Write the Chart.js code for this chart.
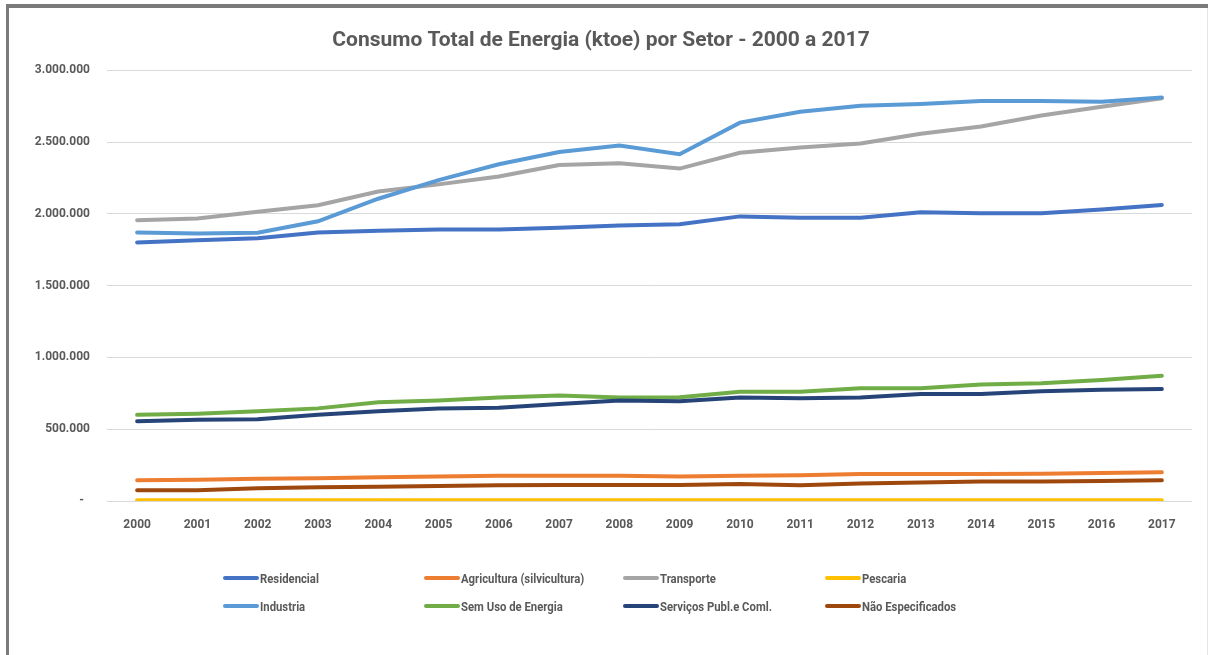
<!DOCTYPE html>
<html>
<head>
<meta charset="utf-8">
<script src="https://cdn.jsdelivr.net/npm/chart.js@4"></script>
<style>
  html, body { margin: 0; padding: 0; background: #fff; }
  #wrap { position: relative; width: 1211px; height: 655px; overflow: hidden; font-family: Roboto, "Liberation Sans", sans-serif; }
  #frameTop { position: absolute; left: 6px; top: 4px; width: 1202px; height: 4px; background: #7b7b7b; }
  #frameLeft { position: absolute; left: 6px; top: 4px; width: 3px; height: 651px; background: #7b7b7b; }
  #frameRight { position: absolute; left: 1207px; top: 8px; width: 1px; height: 647px; background: #e4e4e4; }
  #legend { position: absolute; left: 0; top: 0; width: 1211px; height: 655px; pointer-events: none; }
  .item { position: absolute; display: flex; align-items: center; font-size: 13px; font-weight: bold; color: #595959; white-space: nowrap; }
  .item span.ln { display: inline-block; width: 36px; height: 4px; border-radius: 2px; margin-right: 1px; }
  .item span.tx { display: inline-block; transform: scaleX(0.87); transform-origin: left center; }
</style>
</head>
<body>
<div id="wrap">
  <canvas id="chartEnergia" width="1211" height="655"></canvas>
  <div id="frameTop"></div>
  <div id="frameLeft"></div>
  <div id="frameRight"></div>
  <div id="legend"></div>
</div>
<script>
// anos
const anos = ['2000','2001','2002','2003','2004','2005','2006','2007','2008','2009','2010','2011','2012','2013','2014','2015','2016','2017'];

// consumo por setor (ktoe)
const residencial  = [1800000,1815000,1830000,1870000,1882000,1890000,1890000,1902000,1918000,1928000,1982000,1972000,1972000,2010000,2003000,2003000,2030000,2062000];
const agricultura  = [145000,148000,155000,158000,165000,170000,175000,175000,175000,170000,175000,180000,188000,188000,188000,190000,195000,200000];
const transporte   = [1955000,1968000,2015000,2060000,2155000,2205000,2260000,2340000,2352000,2315000,2425000,2462000,2490000,2558000,2608000,2685000,2745000,2805000];
const pescaria     = [5000,5000,5000,5000,5000,5000,5000,5000,5000,5000,5000,5000,5000,5000,5000,5000,5000,5000];
const industria    = [1870000,1862000,1868000,1948000,2105000,2235000,2345000,2430000,2475000,2415000,2635000,2710000,2752000,2765000,2785000,2785000,2780000,2810000];
const semUso       = [600000,608000,625000,645000,688000,700000,720000,735000,720000,722000,760000,760000,785000,785000,812000,820000,842000,872000];
const servicos     = [555000,565000,570000,600000,625000,645000,650000,675000,700000,695000,720000,715000,720000,745000,745000,765000,775000,780000];
const naoEspecif   = [75000,75000,88000,95000,100000,105000,110000,112000,112000,112000,118000,110000,122000,128000,135000,135000,140000,145000];

const setores = ['Residencial','Agricultura (silvicultura)','Transporte','Pescaria','Industria','Sem Uso de Energia','Serviços Publ.e Coml.','Não Especificados'];
const cores   = ['#4472C4','#ED7D31','#A5A5A5','#FFC000','#5B9BD5','#70AD47','#264478','#9E480E'];
const series  = [residencial, agricultura, transporte, pescaria, industria, semUso, servicos, naoEspecif];

const fonte = 'Roboto, "Liberation Sans", sans-serif';

function formata(v) {
  if (v === 0) return '-  ';
  return String(v).replace(/\B(?=(\d{3})+(?!\d))/g, '.');
}

document.addEventListener('DOMContentLoaded', function () {
  var ctx = document.getElementById('chartEnergia').getContext('2d');

  var data = {
    labels: anos,
    datasets: setores.map(function (nome, i) {
      return {
        label: nome,
        data: series[i],
        borderColor: cores[i],
        backgroundColor: cores[i],
        borderWidth: 4,
        pointRadius: 0,
        tension: 0,
        borderCapStyle: 'round',
        order: 8 - i
      };
    })
  };

  var options = {
    responsive: false,
    animation: false,
    layout: { padding: { left: 10, right: 19, top: 0, bottom: 0 } },
    plugins: {
      legend: { display: false },
      tooltip: { enabled: false },
      title: {
        display: true,
        text: 'Consumo Total de Energia (ktoe) por Setor - 2000 a 2017',
        color: '#595959',
        font: { family: fonte, size: 21, weight: 'bold' },
        padding: { top: 28, bottom: 17 }
      }
    },
    scales: {
      x: {
        offset: true,
        grid: { display: false, drawTicks: false },
        border: { display: false },
        ticks: { color: '#595959', font: { family: fonte, size: 12, weight: 'bold' }, padding: 17, maxRotation: 0 },
        afterFit: function (s) { s.height = 154; }
      },
      y: {
        min: 0,
        max: 3000000,
        grid: { color: '#d9d9d9', lineWidth: 1, drawTicks: false },
        border: { display: false },
        ticks: {
          stepSize: 500000,
          color: '#595959',
          font: { family: fonte, size: 12, weight: 'bold' },
          padding: 17,
          callback: function (v) { return formata(v); }
        },
        afterFit: function (s) { s.width = 97; }
      }
    }
  };

  var grafico = new Chart(ctx, { type: 'line', data: data, options: options });

  // legenda no estilo do Excel: 4 colunas, 2 linhas
  var colX = [223, 424, 623, 825];
  var rowY = [578, 606];
  var leg = document.getElementById('legend');
  grafico.data.datasets.forEach(function (ds, i) {
    var el = document.createElement('div');
    el.className = 'item';
    el.style.left = colX[i % 4] + 'px';
    el.style.top = (rowY[Math.floor(i / 4)] - 9) + 'px';
    el.style.height = '18px';
    el.innerHTML = '<span class="ln" style="background:' + ds.borderColor + '"></span><span class="tx">' + ds.label + '</span>';
    leg.appendChild(el);
  });
});
</script>
</body>
</html>
